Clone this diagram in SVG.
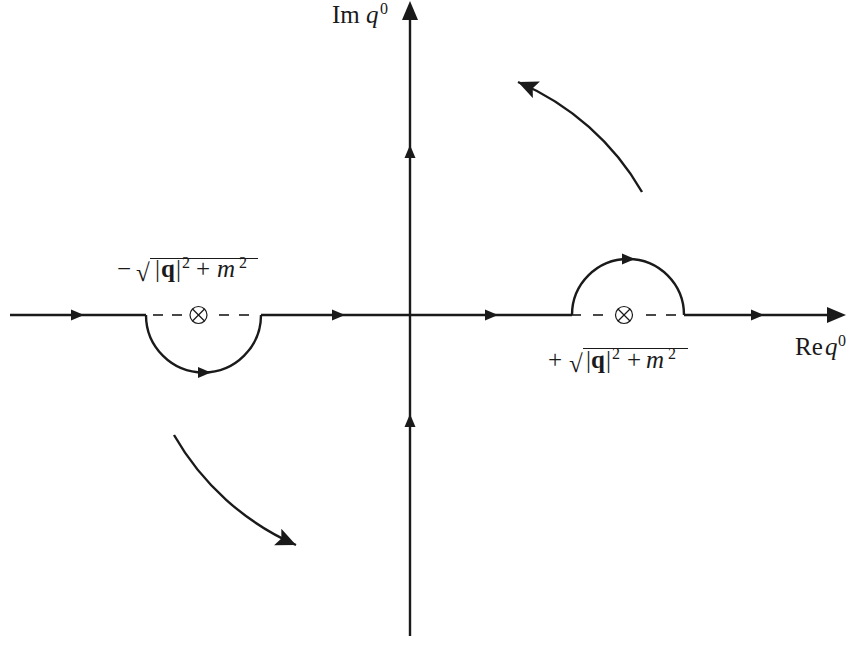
<svg xmlns="http://www.w3.org/2000/svg" width="850" height="646" viewBox="0 0 850 646">
<style>
.ax{stroke:#1a1a1a;stroke-width:2.4;fill:none}
.ds{stroke:#1a1a1a;stroke-width:1.6;fill:none}
.ah{fill:#1a1a1a}
.t{font-family:"Liberation Serif","DejaVu Serif",serif;fill:#1a1a1a;font-size:25px}
.s{font-family:"Liberation Serif","DejaVu Serif",serif;fill:#1a1a1a;font-size:16px}
.i{font-style:italic}
.b{font-weight:bold}
.o{fill:none;stroke:#1a1a1a;stroke-width:1.2}
.v{stroke:#1a1a1a;stroke-width:1}
</style>
<defs>
<path id="sa" d="M0,0 L-13,-5.5 L-13,5.5 Z"/>
<path id="la" d="M0,0 L-19,-8 L-19,8 Z"/>
<marker id="cm" markerWidth="24" markerHeight="20" refX="20" refY="9" orient="auto" markerUnits="userSpaceOnUse">
<path d="M20,9 L0,0 L4,9 L0,18 Z" fill="#1a1a1a"/>
</marker>
</defs>
<rect width="850" height="646" fill="#fff"/>
<g id="connectors">
<line class="ax" x1="10" y1="315" x2="146" y2="315"/>
<line class="ax" x1="261" y1="315" x2="572" y2="315"/>
<line class="ax" x1="684" y1="315" x2="830" y2="315"/>
<line class="ax" x1="410" y1="636" x2="410" y2="18"/>
<path class="ax" d="M146,315 A57.5,57.5 0 0,0 261,315"/>
<path class="ax" d="M572,315 A56,56 0 0,1 684,315"/>
<line class="ds" x1="153" y1="315" x2="163" y2="315"/>
<line class="ds" x1="172" y1="315" x2="182" y2="315"/>
<line class="ds" x1="219" y1="315" x2="229" y2="315"/>
<line class="ds" x1="239" y1="315" x2="249" y2="315"/>
<line class="ds" x1="572" y1="315" x2="581" y2="315"/>
<line class="ds" x1="593" y1="315" x2="603" y2="315"/>
<line class="ds" x1="646" y1="315" x2="656" y2="315"/>
<line class="ds" x1="666" y1="315" x2="676" y2="315"/>
<use href="#sa" class="ah" transform="translate(84,315)"/>
<use href="#sa" class="ah" transform="translate(345,315)"/>
<use href="#sa" class="ah" transform="translate(498,315)"/>
<use href="#sa" class="ah" transform="translate(764,315)"/>
<use href="#la" class="ah" transform="translate(846,315)"/>
<use href="#sa" class="ah" transform="translate(410,145) rotate(-90)"/>
<use href="#sa" class="ah" transform="translate(410,414) rotate(-90)"/>
<use href="#la" class="ah" transform="translate(410,1) rotate(-90)"/>
<use href="#sa" class="ah" transform="translate(211,372.5)"/>
<use href="#sa" class="ah" transform="translate(635,259)"/>
<path class="ax" stroke-width="3.2" d="M642,192 A262,262 0 0,0 518,82" marker-end="url(#cm)"/>
<path class="ax" stroke-width="3.2" d="M174,435 A262,262 0 0,0 296,545" marker-end="url(#cm)"/>
</g>
<g id="pole-left">
<circle class="o" cx="198.5" cy="315" r="8.5"/>
<line class="o" x1="192.5" y1="309" x2="204.5" y2="321"/>
<line class="o" x1="192.5" y1="321" x2="204.5" y2="309"/>
</g>
<g id="pole-right">
<circle class="o" cx="624" cy="315" r="8.5"/>
<line class="o" x1="618" y1="309" x2="630" y2="321"/>
<line class="o" x1="618" y1="321" x2="630" y2="309"/>
</g>
<g id="label-im">
<text class="t" x="332" y="23" font-size="22">Im</text>
<text class="t i" x="366" y="23" font-size="23">q</text>
<text class="s" x="380" y="14">0</text>
</g>
<g id="label-re">
<text class="t" x="795" y="355" font-size="22">Re</text>
<text class="t i" x="825" y="355" font-size="23">q</text>
<text class="s" x="838" y="346">0</text>
</g>
<g id="label-minus">
<text class="t" x="117" y="277">−</text>
<text class="t" x="136" y="281" font-size="30">√</text>
<line class="v" x1="150" y1="258.5" x2="258" y2="258.5"/>
<text class="t" x="155" y="277">|</text>
<text class="t b" x="161" y="277">q</text>
<text class="t" x="176" y="277">|</text>
<text class="s" x="182" y="268">2</text>
<text class="t" x="196" y="277">+</text>
<text class="t i" x="217" y="277" font-size="29">m</text>
<text class="s" x="239" y="268">2</text>
</g>
<g id="label-plus">
<text class="t" x="548" y="368">+</text>
<text class="t" x="569" y="372" font-size="30">√</text>
<line class="v" x1="583" y1="348.5" x2="688" y2="348.5"/>
<text class="t" x="586" y="368">|</text>
<text class="t b" x="591" y="368">q</text>
<text class="t" x="606" y="368">|</text>
<text class="s" x="612" y="359">2</text>
<text class="t" x="627" y="368">+</text>
<text class="t i" x="646" y="368" font-size="29">m</text>
<text class="s" x="668" y="359">2</text>
</g>
</svg>
